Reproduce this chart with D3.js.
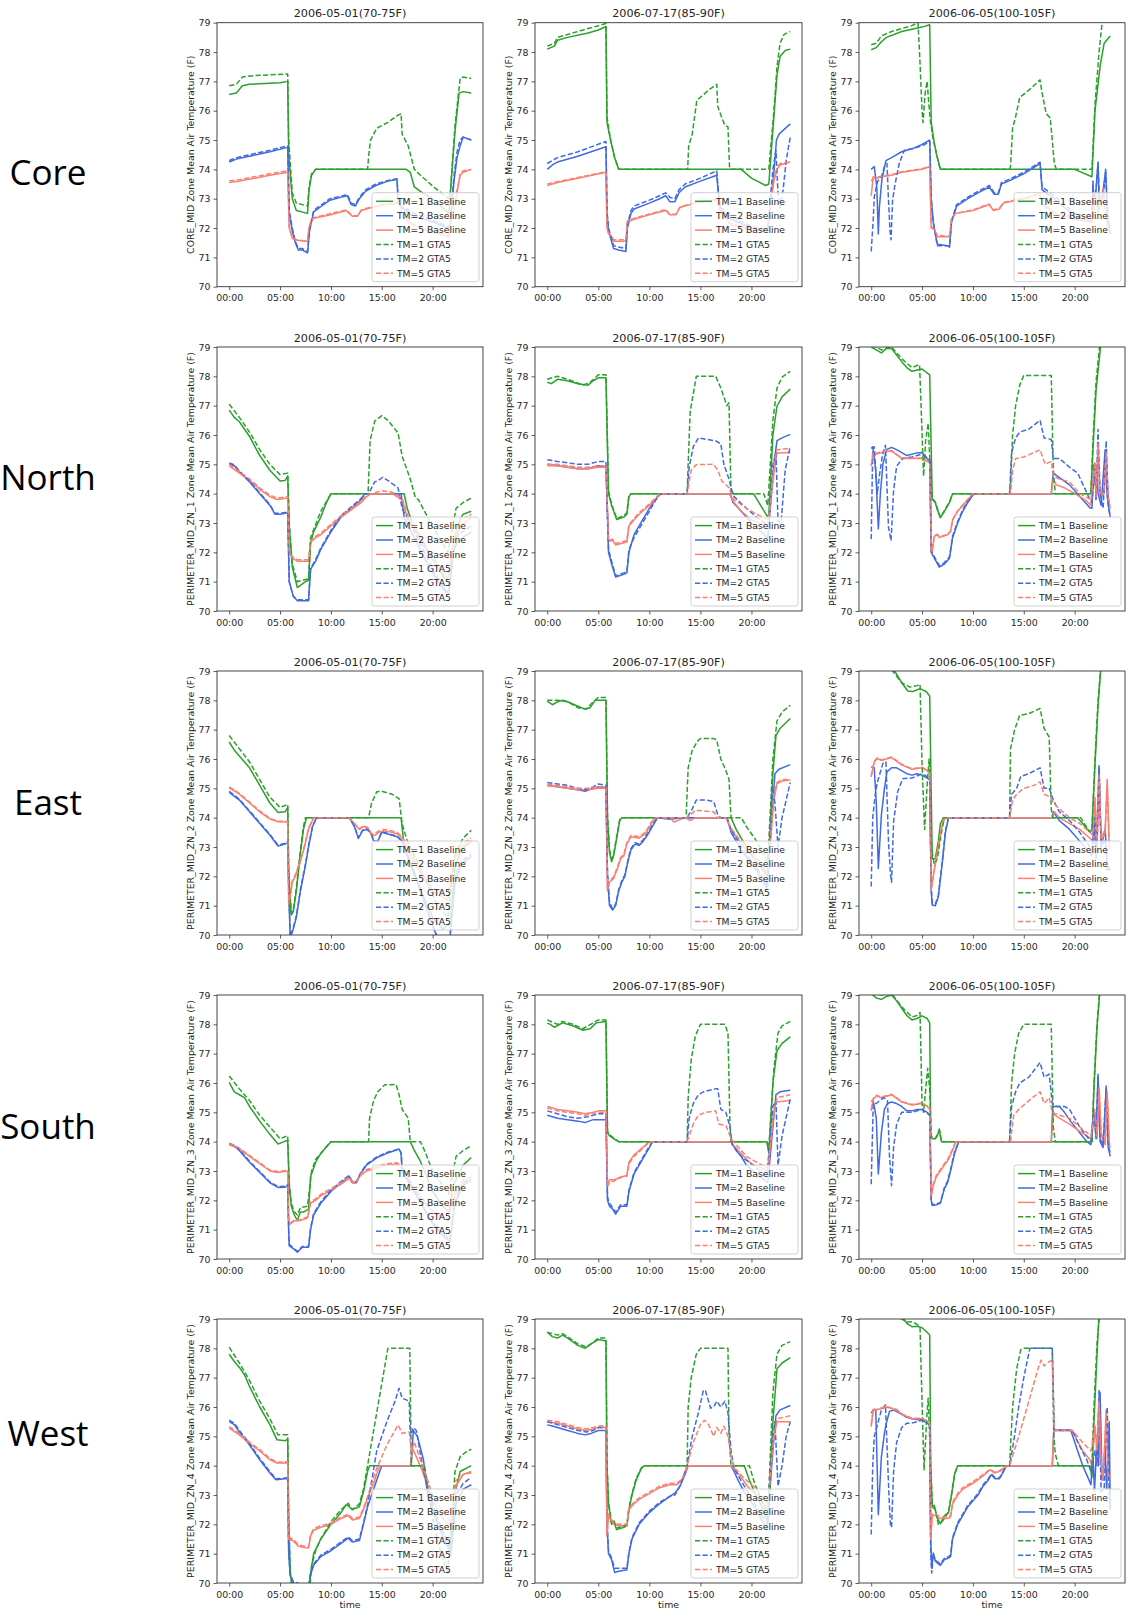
<!DOCTYPE html>
<html>
<head>
<meta charset="utf-8">
<script src="https://cdn.jsdelivr.net/npm/d3@7"></script>
<style>
  body { margin: 0; background: #fff; }
  svg { display: block; }
</style>
</head>
<body>
<svg id="chart" width="1129" height="1616"></svg>
<script>
// ---- Zone mean air temperature (F) by hour of day, [hour, value] ----

// Core, 2006-05-01
const core_may_tm1b = [[0,76.55],[0.7,76.6],[1.3,76.85],[2,76.9],[5,76.95],[5.75,77.0],[5.85,74.5],[6.2,73.0],[6.6,72.6],[7.7,72.5],[7.85,73.3],[8.1,73.8],[8.5,74.0],[17.4,74.0],[17.8,73.9],[18.2,73.4],[19,73.2],[20,73.0],[21.6,72.5],[21.8,73.5],[22.2,75.3],[22.6,76.6],[23,76.65],[23.8,76.6]];
const core_may_tm2b = [[0,74.25],[0.7,74.35],[2,74.45],[4,74.6],[5.75,74.75],[5.9,72.5],[6.2,71.9],[6.5,71.5],[6.8,71.25],[7.2,71.25],[7.7,71.15],[7.9,71.9],[8.3,72.55],[8.9,72.7],[9.9,72.95],[11.2,73.07],[11.6,73.1],[12.0,72.8],[12.4,72.75],[12.8,73.0],[13.4,73.25],[14.4,73.45],[15.6,73.6],[16.5,73.65],[16.6,72.95],[16.9,72.7],[18.2,72.4],[20.1,72.2],[21.5,72.0],[21.7,72.05],[22.1,73.6],[22.4,74.4],[22.7,74.8],[23,75.1],[23.8,75.0]];
const core_may_tm5b = [[0,73.55],[1,73.6],[2.5,73.7],[4,73.8],[5.75,73.9],[5.9,72.0],[6.2,71.65],[6.6,71.58],[7.7,71.55],[7.85,72.0],[8.1,72.25],[8.3,72.33],[10,72.45],[11.5,72.6],[12.1,72.4],[12.6,72.4],[13,72.6],[14,72.7],[15.5,72.8],[16.8,72.85],[17.0,72.4],[18,72.1],[20,71.85],[21.6,71.7],[21.8,72.2],[22.3,73.0],[22.7,73.8],[23,73.9],[23.8,74.0]];
const core_may_tm1g = [[0,76.85],[0.7,76.9],[1.3,77.15],[2.5,77.2],[5.75,77.25],[5.85,75.0],[6.2,73.2],[6.6,72.85],[7.7,72.75],[7.85,73.4],[8.1,73.85],[8.5,74.0],[13.6,74.0],[13.75,74.6],[13.9,75.0],[14.5,75.4],[15.6,75.6],[16.6,75.85],[16.9,75.9],[17.0,75.2],[17.6,74.8],[17.9,74.4],[18.2,74.0],[18.8,73.8],[20.1,73.4],[21.4,73.05],[21.7,73.0],[22.2,75.5],[22.7,77.1],[23,77.15],[23.8,77.1]];
const core_may_tm2g = [[0,74.3],[0.7,74.4],[2,74.5],[4,74.65],[5.75,74.8],[5.9,72.6],[6.2,72.0],[6.5,71.55],[6.8,71.3],[7.2,71.3],[7.7,71.2],[7.9,71.95],[8.3,72.6],[8.9,72.75],[9.9,73.0],[11.2,73.1],[11.6,73.15],[12.0,72.85],[12.4,72.8],[12.8,73.05],[13.4,73.3],[14.4,73.5],[15.6,73.62],[16.5,73.68],[16.6,73.0],[16.9,72.75],[18.2,72.5],[20.1,72.25],[21.5,72.05],[21.7,72.1],[22.1,73.8],[22.4,74.6],[22.7,75.0],[23,75.1],[23.8,75.0]];
const core_may_tm5g = [[0,73.6],[1,73.65],[2.5,73.75],[4,73.85],[5.75,73.95],[5.9,72.05],[6.2,71.7],[6.6,71.6],[7.7,71.55],[7.85,72.05],[8.1,72.3],[8.3,72.35],[10,72.5],[11.5,72.62],[12.1,72.42],[12.6,72.42],[13,72.62],[14,72.72],[15.5,72.82],[16.8,72.87],[17.0,72.45],[18,72.15],[20,71.9],[21.6,71.75],[21.8,72.25],[22.3,73.1],[22.7,73.85],[23,73.95],[23.8,74.0]];

// Core, 2006-07-17
const core_jul_tm1b = [[0,78.1],[0.7,78.2],[1,78.4],[2,78.5],[4,78.65],[5,78.75],[5.75,78.87],[5.85,75.6],[6.2,75.0],[6.6,74.4],[7.0,74.0],[19.0,74.0],[20,73.7],[21.4,73.45],[21.7,73.5],[22.2,75.8],[22.5,77.2],[22.8,77.85],[23.3,78.05],[23.8,78.1]];
const core_jul_tm2b = [[0,74.0],[0.5,74.15],[1,74.25],[3,74.45],[5.75,74.77],[5.85,72.5],[6.0,71.9],[6.5,71.3],[7,71.25],[7.7,71.2],[7.85,72.0],[8.2,72.5],[8.5,72.65],[10,72.85],[11,73.0],[11.6,73.1],[12,72.9],[12.5,72.9],[12.9,73.2],[13.5,73.4],[15,73.6],[16.6,73.8],[16.8,73.0],[17,72.6],[18,72.3],[20,72.0],[21.6,71.9],[21.8,72.6],[22.2,73.9],[22.45,75.0],[22.7,75.2],[23.8,75.55]];
const core_jul_tm5b = [[0,73.45],[1,73.55],[3,73.7],[5.75,73.9],[5.85,72.0],[6.0,71.8],[6.3,71.7],[6.5,71.55],[7.7,71.55],[7.85,72.2],[8.5,72.3],[10,72.45],[11.6,72.6],[12,72.45],[12.6,72.45],[13,72.7],[14.5,72.85],[16.6,72.95],[17,72.5],[18,72.1],[20,71.95],[21.6,71.9],[21.8,72.6],[22.2,73.6],[22.5,74.0],[22.8,74.15],[23.8,74.25]];
const core_jul_tm1g = [[0,78.2],[0.7,78.3],[1,78.5],[2,78.6],[4,78.8],[5.75,78.97],[5.85,75.8],[6.2,75.0],[6.6,74.4],[7.0,74.0],[13.75,74.0],[13.85,74.8],[14.2,75.2],[14.65,76.35],[15.8,76.7],[16.6,76.9],[16.7,76.15],[17.05,75.8],[17.4,75.5],[17.7,75.45],[17.85,74.1],[18.0,74.0],[21.7,74.0],[22.2,76.0],[22.5,77.5],[22.8,78.3],[23.2,78.6],[23.8,78.7]];
const core_jul_tm2g = [[0,74.2],[0.5,74.3],[1,74.4],[3,74.6],[5.75,74.95],[5.85,72.6],[6.0,72.0],[6.5,71.4],[7,71.35],[7.7,71.3],[7.85,72.1],[8.2,72.6],[8.5,72.75],[10,72.95],[11,73.1],[11.6,73.2],[12,73.05],[12.5,73.0],[12.9,73.3],[13.5,73.5],[15,73.7],[16.6,73.95],[16.8,73.1],[17,72.7],[18,72.4],[20,72.05],[21.6,71.95],[21.8,72.8],[22.1,74.0],[22.4,74.65],[22.6,73.2],[22.8,72.7],[23.1,73.3],[23.4,74.3],[23.8,75.1]];
const core_jul_tm5g = [[0,73.5],[1,73.58],[3,73.72],[5.75,73.92],[5.85,72.05],[6.0,71.85],[6.3,71.72],[6.5,71.6],[7.7,71.6],[7.85,72.25],[8.5,72.33],[10,72.48],[11.6,72.63],[12,72.47],[12.6,72.47],[13,72.72],[14.5,72.87],[16.6,72.97],[17,72.55],[18,72.15],[20,72.0],[21.6,71.95],[21.8,72.7],[22.2,73.7],[22.5,74.05],[22.8,74.2],[23.8,74.25]];

// Core, 2006-06-05
const core_jun_tm1b = [[0,78.08],[0.5,78.15],[1,78.35],[1.5,78.5],[3,78.7],[5,78.85],[5.75,78.93],[5.9,75.6],[6.2,74.9],[6.5,74.4],[6.8,74.0],[20,74.0],[21.7,73.75],[22.0,76.0],[22.5,77.5],[22.9,78.3],[23.5,78.55]];
const core_jun_tm2b = [[0,74.0],[0.3,74.1],[0.55,73.4],[0.7,71.8],[0.8,72.7],[1.05,73.65],[1.45,74.3],[2,74.4],[3,74.6],[4,74.7],[5,74.85],[5.75,75.0],[5.9,73.0],[6.1,72.2],[6.5,71.45],[7.5,71.4],[7.7,71.35],[7.9,72.2],[8.4,72.75],[9.5,73.0],[10.5,73.2],[11.6,73.4],[12.1,73.15],[12.5,73.15],[12.8,73.5],[13.5,73.6],[15,73.85],[16.6,74.2],[16.8,73.3],[18,73.0],[20,72.4],[21.7,72.2],[21.8,73.6],[21.9,72.8],[22.1,73.3],[22.3,74.25],[22.4,72.8],[22.7,73.0],[23.05,74.0],[23.2,72.5],[23.5,71.8]];
const core_jun_tm5b = [[0,73.1],[0.2,73.75],[0.5,73.7],[1,73.75],[2,73.8],[3,73.9],[5,74.0],[5.75,74.1],[5.9,72.0],[6.2,71.95],[6.5,71.7],[7.7,71.7],[7.9,72.3],[8.3,72.5],[10,72.6],[11.6,72.8],[12,72.6],[12.6,72.65],[13,72.85],[15,73.0],[16.6,73.15],[16.8,72.8],[18,72.5],[20,72.3],[21.7,72.2],[22.1,73.1],[22.3,72.5],[22.8,73.3],[23.2,72.1],[23.5,71.8]];
const core_jun_tm1g = [[0,78.25],[0.5,78.3],[1,78.55],[2,78.7],[4,78.9],[4.6,79.0],[4.75,78.0],[5.0,76.0],[5.1,75.6],[5.3,76.6],[5.5,77.0],[5.65,76.3],[5.8,75.7],[6.1,75.0],[6.5,74.4],[6.8,74.0],[13.6,74.0],[13.7,74.1],[13.9,75.4],[14.2,75.8],[14.6,76.45],[15.5,76.7],[16.6,77.05],[16.8,76.6],[17.2,75.9],[17.6,75.75],[17.8,75.0],[18.0,74.2],[18.2,74.0],[21.7,74.0],[22.0,76.2],[22.4,78.0],[22.7,79.0],[23.5,79.5]];
const core_jun_tm2g = [[0,71.2],[0.2,72.3],[0.3,73.05],[0.5,73.4],[0.65,73.6],[1.0,73.75],[1.3,74.1],[1.55,74.2],[1.7,72.95],[1.85,71.9],[1.95,71.6],[2.1,72.95],[2.35,73.5],[2.75,74.2],[3.25,74.65],[4,74.7],[5,74.8],[5.75,74.95],[5.9,73.0],[6.1,72.2],[6.5,71.4],[7.5,71.4],[7.7,71.38],[7.9,72.25],[8.4,72.8],[9.5,73.05],[10.5,73.25],[11.6,73.45],[12.1,73.2],[12.5,73.2],[12.8,73.55],[13.5,73.65],[15,73.9],[16.6,74.25],[16.8,73.4],[18,73.1],[20,72.5],[21.7,72.3],[21.8,73.4],[21.95,72.9],[22.15,73.5],[22.3,74.2],[22.45,72.9],[22.8,73.1],[23.05,73.9],[23.25,72.6],[23.5,71.9]];
const core_jun_tm5g = [[0,73.6],[0.2,73.7],[0.5,73.72],[1,73.77],[2,73.82],[3,73.92],[5,74.02],[5.75,74.1],[5.9,72.05],[6.2,71.95],[6.5,71.75],[7.7,71.72],[7.9,72.35],[8.3,72.5],[10,72.62],[11.6,72.82],[12,72.62],[12.6,72.67],[13,72.87],[15,73.02],[16.6,73.17],[16.8,72.85],[18,72.55],[20,72.35],[21.7,72.25],[22.1,73.2],[22.3,72.6],[22.8,73.35],[23.2,72.2],[23.5,71.9]];

// North (PERIMETER_MID_ZN_1), 2006-05-01
const north_may_tm1b = [[0,76.85],[0.5,76.6],[1,76.45],[2,75.95],[3,75.3],[4,74.8],[5,74.43],[5.5,74.45],[5.75,74.6],[5.9,72.9],[6.2,71.5],[6.7,70.8],[7.5,71.0],[7.8,71.05],[8.0,72.3],[8.3,72.7],[9,73.2],[9.5,73.65],[10,74.0],[17.2,74.0],[17.5,73.5],[18,73.0],[19,72.4],[20,71.8],[21,71.2],[21.7,70.9],[22.2,72.5],[22.5,73.0],[23,73.3],[23.8,73.4]];
const north_may_tm2b = [[0,75.0],[0.5,74.95],[1,74.75],[2,74.4],[3,74.0],[4,73.6],[4.5,73.3],[5,73.3],[5.75,73.35],[5.9,71.0],[6.3,70.5],[6.7,70.35],[7.8,70.35],[8.0,71.42],[8.5,71.7],[9,72.1],[10,72.7],[11,73.2],[12,73.5],[13,73.8],[13.3,74.0],[16.9,74.0],[17.2,73.2],[17.6,72.9],[18.5,72.3],[19.5,71.6],[20.5,71.0],[21.3,70.65],[21.6,70.6],[22,72.0],[22.5,72.4],[23.8,72.7]];
const north_may_tm5b = [[0,74.95],[1,74.7],[2,74.45],[3,74.15],[4,73.9],[4.7,73.8],[5.75,73.85],[5.9,72.0],[6.2,71.8],[6.7,71.7],[7.8,71.7],[8.0,72.35],[8.5,72.5],[9,72.6],[10,72.9],[11,73.2],[12,73.45],[13,73.7],[13.5,73.9],[14,74.0],[16,74.0],[16.5,73.9],[17,73.8],[17.5,73.2],[18.5,72.6],[19.5,72.0],[20.5,71.5],[21.5,71.1],[22.2,72.4],[22.8,72.9],[23.8,73.2]];
const north_may_tm1g = [[0,77.05],[1,76.6],[2,76.1],[3,75.5],[4,75.0],[5,74.65],[5.75,74.7],[5.9,73.0],[6.2,71.6],[6.7,71.0],[7.8,71.1],[8.0,72.5],[9,73.4],[10,74.0],[13.65,74.0],[13.85,75.8],[14.3,76.47],[15,76.66],[15.6,76.5],[16.6,76.07],[17,75.28],[17.8,74.5],[18.3,73.86],[18.6,73.8],[19.5,73.2],[20.5,72.6],[21.5,72.0],[22.3,73.5],[23,73.7],[23.8,73.85]];
const north_may_tm2g = [[0,75.05],[0.5,74.98],[1,74.78],[2,74.43],[3,74.03],[4,73.63],[4.5,73.33],[5,73.33],[5.75,73.38],[5.9,71.0],[6.3,70.5],[6.7,70.38],[7.8,70.38],[8.0,71.45],[8.5,71.75],[9,72.15],[10,72.75],[11,73.25],[12,73.55],[13,73.85],[13.3,74.0],[13.7,74.0],[14.3,74.4],[14.65,74.45],[15.1,74.56],[15.8,74.4],[16.6,74.2],[17.0,73.5],[17.6,73.1],[18.5,72.5],[19.5,71.8],[20.5,71.1],[21.3,70.7],[21.6,70.65],[22,72.2],[22.5,72.6],[23.8,72.9]];
const north_may_tm5g = [[0,75.0],[1,74.75],[2,74.5],[3,74.2],[4,73.95],[4.7,73.85],[5.75,73.9],[5.9,72.05],[6.2,71.85],[6.7,71.75],[7.8,71.75],[8.0,72.4],[8.5,72.55],[9,72.65],[10,72.95],[11,73.25],[12,73.5],[13,73.75],[13.5,73.95],[14,74.0],[14.5,74.05],[15,74.1],[16,74.05],[16.5,73.95],[17,73.85],[17.5,73.3],[18.5,72.7],[19.5,72.1],[20.5,71.6],[21.5,71.2],[22.2,72.6],[22.8,73.1],[23.8,73.3]];

// North, 2006-07-17
const north_jul_tm1b = [[0,77.8],[0.4,77.75],[1,77.9],[2,77.85],[3,77.75],[4,77.7],[4.5,77.85],[5,77.95],[5.75,77.95],[6.0,74.0],[6.3,73.6],[6.8,73.12],[7.5,73.2],[7.8,73.3],[8.0,73.9],[8.2,74.0],[20.2,74.0],[21.6,73.2],[21.7,73.3],[22.1,76.0],[22.5,76.98],[23,77.3],[23.8,77.57]];
const north_jul_tm2b = [[0,75.0],[1,74.95],[3,74.85],[4,74.85],[5,74.95],[5.75,74.9],[6.0,72.0],[6.3,71.6],[6.7,71.16],[7.5,71.25],[7.8,71.3],[8.0,72.0],[8.5,72.6],[9,72.9],[10,73.5],[10.8,73.9],[11.2,74.0],[17.9,74.0],[18.2,73.7],[19,73.4],[20,73.0],[21.6,72.5],[22.2,75.0],[22.5,75.81],[23,75.9],[23.8,76.02]];
const north_jul_tm5b = [[0,74.95],[1,74.95],[3,74.85],[4,74.85],[5,74.9],[5.75,74.9],[6.0,72.38],[6.4,72.4],[6.7,72.25],[7.8,72.35],[8.0,72.9],[8.5,73.1],[9,73.3],[10,73.6],[11,73.95],[11.2,74.0],[17.8,74.0],[18.3,73.7],[19,73.4],[20,73.1],[21.6,72.9],[22.2,74.7],[22.5,75.39],[23.8,75.4]];
const north_jul_tm1g = [[0,77.9],[1,78.0],[2,77.9],[3.5,77.7],[4.2,77.8],[5,78.05],[5.75,78.05],[6.0,74.1],[6.3,73.65],[6.8,73.15],[7.5,73.25],[7.8,73.35],[8.0,73.95],[8.2,74.0],[13.7,74.0],[13.8,75.0],[14.0,76.8],[14.6,78.0],[16.5,78.0],[17.0,77.6],[17.6,77.0],[17.8,77.1],[18.0,74.0],[21.2,74.0],[21.6,73.6],[22.1,76.5],[22.5,77.6],[23,77.97],[23.8,78.17]];
const north_jul_tm2g = [[0,75.16],[1,75.1],[3,75.0],[4,75.0],[5,75.1],[5.75,75.1],[6.0,72.1],[6.3,71.7],[6.7,71.2],[7.5,71.3],[7.8,71.35],[8.0,72.1],[8.5,72.5],[9,72.8],[10,73.4],[11,74.0],[13.7,74.0],[13.9,74.9],[14.3,75.6],[14.8,75.9],[16.5,75.8],[17,75.7],[17.3,75.0],[17.8,74.5],[18,74.2],[18.3,73.9],[19.5,73.5],[20.5,73.2],[21.7,72.9],[22.1,75.0],[22.4,75.4],[22.6,73.06],[22.9,73.0],[23.3,74.8],[23.8,75.62]];
const north_jul_tm5g = [[0,75.0],[1,75.0],[3,74.9],[4,74.9],[5,74.95],[5.75,74.95],[6.0,72.4],[6.4,72.45],[6.7,72.3],[7.8,72.4],[8.0,72.95],[8.5,73.15],[9,73.35],[10,73.65],[11,74.0],[13.7,74.0],[14.1,74.8],[14.6,74.99],[16.3,75.0],[16.7,74.8],[17.1,74.43],[17.8,74.2],[18,74.0],[18.3,73.8],[19.5,73.5],[20.5,73.3],[21.7,73.1],[22.2,75.0],[22.5,75.5],[23.8,75.55]];

// North, 2006-06-05
const north_jun_tm1b = [[0,79.0],[0.5,78.9],[1,78.8],[1.5,78.95],[2,78.95],[3,78.5],[3.5,78.3],[4,78.17],[5,78.25],[5.75,78.05],[6.0,73.8],[6.3,73.7],[6.5,73.45],[6.8,73.18],[7.2,73.4],[7.7,73.7],[8.0,74.0],[21.6,74.0],[21.8,75.5],[22.1,77.5],[22.6,79.2],[23.5,80]];
const north_jun_tm2b = [[0,75.54],[0.15,75.6],[0.45,74.8],[0.7,72.8],[0.9,74.0],[1.15,75.0],[1.5,75.5],[2,75.58],[2.5,75.5],[3.5,75.3],[4.5,75.39],[5,75.4],[5.5,75.2],[5.8,75.1],[5.9,72.0],[6.2,71.8],[6.7,71.5],[7.2,71.6],[7.7,71.8],[8.0,72.5],[8.5,73.0],[9,73.4],[9.5,73.7],[10,73.95],[10.2,74.0],[17.7,74.0],[17.9,74.7],[18.5,74.55],[19.5,74.3],[20.5,73.9],[21.5,73.52],[21.7,73.5],[21.9,75.0],[22.0,74.3],[22.2,74.8],[22.3,74.0],[22.6,73.6],[23.0,75.5],[23.2,73.9],[23.5,73.2]];
const north_jun_tm5b = [[0,74.94],[0.2,75.4],[0.5,75.35],[1,75.4],[1.5,75.45],[2,75.45],[3,75.2],[4,75.2],[5,75.2],[5.75,75.05],[5.9,72.0],[6.0,72.0],[6.2,72.55],[6.5,72.6],[6.7,72.5],[7.5,72.6],[7.8,72.7],[8.0,73.1],[8.5,73.4],[9,73.6],[10,74.0],[17.7,74.0],[17.9,74.48],[18.2,74.3],[19,74.2],[20,74.0],[21,73.8],[21.6,73.6],[22.0,75.0],[22.1,73.8],[22.3,75.6],[22.5,73.9],[22.9,74.0],[23.1,75.3],[23.3,73.8],[23.5,73.5]];
const north_jun_tm1g = [[0,79.05],[0.5,79.0],[1,78.9],[1.8,79.0],[2,79.0],[3,78.6],[4,78.3],[4.75,78.4],[4.85,77.5],[5.15,74.6],[5.35,75.8],[5.6,76.4],[5.85,74.5],[6.0,73.85],[6.3,73.72],[6.5,73.5],[6.8,73.2],[7.2,73.42],[7.7,73.72],[8.0,74.0],[13.6,74.0],[13.7,74.3],[13.9,76.0],[14.2,77.0],[14.6,77.7],[15.0,78.03],[17.7,78.03],[17.9,74.8],[18.1,74.0],[21.6,74.0],[21.8,75.8],[22.1,77.8],[22.5,79.2],[23.5,80]];
const north_jun_tm2g = [[0,72.45],[0.15,75.55],[0.3,75.6],[0.45,74.7],[0.6,74.0],[0.8,74.6],[1.1,75.3],[1.4,75.65],[1.7,72.84],[1.95,72.4],[2.2,74.1],[2.5,74.94],[3.1,75.2],[4,75.25],[5,75.35],[5.75,75.15],[5.9,72.05],[6.2,71.85],[6.7,71.55],[7.2,71.65],[7.7,71.85],[8.0,72.55],[8.5,73.05],[9,73.45],[9.5,73.75],[10,74.0],[13.6,74.0],[13.8,75.4],[14.2,75.9],[14.6,76.1],[15.5,76.2],[16.6,76.5],[17,75.9],[17.7,75.85],[17.9,75.2],[18.5,75.2],[19.5,74.9],[20.3,74.7],[21.5,73.8],[21.7,73.7],[22.0,75.0],[22.1,73.8],[22.3,76.19],[22.5,74.0],[22.8,73.5],[23.1,75.8],[23.3,73.6],[23.5,73.2]];
const north_jun_tm5g = [[0,74.98],[0.2,75.42],[0.5,75.38],[1,75.42],[1.5,75.47],[2,75.47],[3,75.22],[4,75.22],[5,75.22],[5.75,75.07],[5.9,72.05],[6.0,72.05],[6.2,72.58],[6.5,72.62],[6.7,72.52],[7.5,72.62],[7.8,72.72],[8.0,73.12],[8.5,73.42],[9,73.62],[10,74.0],[13.7,74.0],[13.9,74.8],[14.2,75.2],[15,75.25],[16,75.4],[16.6,75.5],[17.1,75.0],[17.7,75.1],[17.9,74.6],[18.5,74.5],[19.5,74.4],[20.5,74.0],[21.6,73.8],[22.0,75.1],[22.1,73.9],[22.3,75.7],[22.5,74.0],[22.9,74.1],[23.1,75.4],[23.3,73.9],[23.5,73.6]];

// East (PERIMETER_MID_ZN_2), 2006-05-01
const east_may_tm1b = [[0,76.58],[0.5,76.3],[1,76.1],[2,75.7],[3,75.1],[4,74.5],[4.8,74.18],[5.5,74.2],[5.75,74.35],[5.85,72.0],[6.1,70.68],[6.3,70.8],[6.6,71.5],[7.0,72.8],[7.3,73.6],[7.6,74.0],[16.9,74.0],[17.2,73.0],[18,72.2],[19,71.4],[20,70.6],[21,70.2],[21.7,70.4],[22.2,72.3],[22.8,72.9],[23.8,73.2]];
const east_may_tm2b = [[0,74.86],[1,74.6],[2,74.2],[3,73.8],[4,73.4],[4.8,73.03],[5.5,73.1],[5.75,73.15],[5.9,71.0],[6.0,69.9],[6.3,70.2],[6.6,70.6],[7.0,71.5],[7.5,72.38],[7.8,73.0],[8.2,73.7],[8.6,74.0],[11.8,74.0],[12.3,73.7],[12.7,73.29],[13.1,73.55],[13.5,73.6],[13.9,73.5],[14.2,73.2],[14.6,73.18],[15,73.5],[15.5,73.45],[16,73.4],[16.5,73.35],[17,73.2],[18,72.3],[19,71.3],[20,70.3],[20.5,69.9],[21.7,69.9],[22.2,71.8],[22.8,72.4],[23.8,72.67]];
const east_may_tm5b = [[0,75.02],[1,74.8],[2,74.5],[3,74.2],[4,73.95],[4.8,73.86],[5.75,73.85],[5.85,71.0],[6.0,71.3],[6.2,71.8],[6.5,72.0],[7.0,72.5],[7.4,73.0],[7.8,73.6],[8.3,74.0],[11.8,74.0],[12.4,73.75],[12.8,73.6],[13.2,73.7],[13.6,73.65],[14,73.4],[14.3,73.4],[14.7,73.5],[15.2,73.55],[16,73.5],[16.5,73.45],[17,73.3],[18,72.6],[19,72.0],[20,71.5],[21.5,71.2],[22.2,72.6],[22.8,73.0],[23.8,73.21]];
const east_may_tm1g = [[0,76.8],[1,76.35],[2,75.9],[3,75.3],[4,74.7],[5,74.35],[5.75,74.45],[5.85,72.2],[6.1,70.75],[6.3,70.85],[6.6,71.6],[7.0,72.9],[7.3,73.7],[7.5,74.0],[13.7,74.0],[14.0,74.5],[14.5,74.88],[15,74.9],[16,74.8],[16.7,74.65],[17.0,73.8],[17.5,73.2],[18.5,72.5],[19.5,71.7],[20.5,71.0],[21.5,70.6],[22.2,72.8],[23,73.3],[23.8,73.57]];
const east_may_tm2g = [[0,74.9],[1,74.63],[2,74.23],[3,73.83],[4,73.43],[4.8,73.06],[5.5,73.13],[5.75,73.18],[5.9,71.05],[6.0,69.95],[6.3,70.25],[6.6,70.65],[7.0,71.55],[7.5,72.42],[7.8,73.05],[8.2,73.73],[8.6,74.0],[11.8,74.0],[12.3,73.72],[12.7,73.32],[13.1,73.57],[13.5,73.62],[13.9,73.52],[14.2,73.22],[14.6,73.2],[15,73.52],[15.5,73.47],[16,73.42],[16.5,73.37],[17,73.2],[18,72.35],[19,71.35],[20,70.35],[20.5,69.9],[21.7,69.9],[22.2,72.0],[22.8,72.5],[23.8,72.75]];
const east_may_tm5g = [[0,75.05],[1,74.83],[2,74.53],[3,74.23],[4,73.98],[4.8,73.88],[5.75,73.87],[5.85,71.05],[6.0,71.35],[6.2,71.85],[6.5,72.05],[7.0,72.55],[7.4,73.05],[7.8,73.65],[8.3,74.0],[11.8,74.0],[12.4,73.77],[12.8,73.62],[13.2,73.72],[13.6,73.67],[14,73.45],[14.3,73.45],[14.7,73.55],[15.2,73.6],[16,73.55],[16.5,73.5],[17,73.35],[18,72.7],[19,72.1],[20,71.6],[21.5,71.3],[22.2,72.7],[22.8,73.1],[23.8,73.3]];

// East, 2006-07-17
const east_jul_tm1b = [[0,77.97],[0.5,77.85],[1,77.95],[1.5,78.0],[2,77.95],[3,77.8],[3.7,77.7],[4.2,77.75],[4.7,78.0],[5.75,78.0],[5.9,74.0],[6.1,72.8],[6.3,72.5],[6.5,72.7],[6.8,73.3],[7.1,73.9],[7.3,74.0],[18.0,74.0],[18.5,73.6],[19,73.3],[19.5,73.0],[20.5,72.5],[21.6,72.0],[22.1,75.5],[22.4,76.8],[22.8,77.04],[23.8,77.38]];
const east_jul_tm2b = [[0,75.1],[1,75.05],[2,75.0],[3,74.95],[3.7,74.9],[4.5,75.0],[5,75.05],[5.75,75.0],[5.9,72.0],[6.1,71.0],[6.4,70.85],[6.7,71.0],[7.0,71.5],[7.3,71.8],[7.6,72.0],[7.9,72.5],[8.2,72.9],[8.6,73.1],[9.0,73.05],[9.4,73.2],[9.8,73.4],[10.3,73.7],[10.8,74.0],[12,73.95],[13.2,74.0],[17.6,74.0],[18,73.5],[18.5,73.2],[19,72.9],[20.5,72.2],[21.5,71.6],[22.1,74.5],[22.3,75.5],[22.7,75.65],[23.8,75.81]];
const east_jul_tm5b = [[0,75.1],[1,75.05],[2,75.0],[3,74.95],[4,74.95],[5,75.0],[5.75,75.0],[5.9,71.5],[6.1,71.8],[6.5,71.93],[6.8,72.2],[7.2,72.6],[7.5,72.7],[7.8,73.1],[8.2,73.35],[9.0,73.3],[9.6,73.45],[10.2,73.8],[10.6,74.0],[12,74.0],[12.4,73.85],[13.5,74.0],[14,73.9],[14.5,74.0],[17.5,74.0],[18,73.6],[18.5,73.35],[19.5,72.9],[20.5,72.5],[21.6,72.1],[22.2,74.6],[22.5,75.15],[23,75.25],[23.8,75.28]];
const east_jul_tm1g = [[0,78.0],[1,78.0],[2,77.95],[3,77.75],[3.8,77.7],[4.5,77.95],[5,78.1],[5.75,78.1],[5.9,74.1],[6.1,72.9],[6.3,72.6],[6.5,72.75],[6.8,73.35],[7.1,73.95],[7.3,74.0],[13.6,74.0],[13.8,75.7],[14.2,76.3],[14.7,76.6],[15,76.7],[16.3,76.7],[16.6,76.65],[17.0,76.0],[17.5,75.6],[17.8,75.3],[18.0,74.0],[19.0,74.0],[19.5,73.7],[20.5,73.2],[21.6,72.5],[22.1,76.0],[22.5,77.3],[23,77.6],[23.8,77.83]];
const east_jul_tm2g = [[0,75.2],[1,75.15],[2,75.1],[3,75.0],[3.7,74.95],[4.5,75.05],[5,75.15],[5.75,75.1],[5.9,72.1],[6.1,71.1],[6.4,70.9],[6.7,71.05],[7.0,71.55],[7.3,71.85],[7.6,72.05],[7.9,72.55],[8.2,72.95],[8.6,73.15],[9.0,73.1],[9.4,73.25],[9.8,73.45],[10.3,73.75],[10.8,74.0],[13.7,74.0],[14.2,74.3],[14.6,74.6],[15.6,74.6],[16.3,74.55],[16.7,74.1],[17,74.0],[17.6,74.0],[18,73.6],[18.5,73.3],[19,73.0],[20.5,72.3],[21.6,71.7],[22.1,75.0],[22.3,74.5],[22.6,73.0],[23.0,74.0],[23.4,74.6],[23.8,75.2]];
const east_jul_tm5g = [[0,75.15],[1,75.1],[2,75.05],[3,75.0],[4,75.0],[5,75.05],[5.75,75.05],[5.9,71.55],[6.1,71.85],[6.5,71.98],[6.8,72.25],[7.2,72.65],[7.5,72.75],[7.8,73.15],[8.2,73.4],[9.0,73.35],[9.6,73.5],[10.2,73.85],[10.6,74.0],[13.7,74.0],[14.5,74.25],[16.3,74.2],[16.7,74.0],[17.5,74.0],[18,73.65],[18.5,73.4],[19.5,73.0],[20.5,72.6],[21.6,72.2],[22.2,74.8],[22.5,75.2],[23,75.3],[23.8,75.3]];

// East, 2006-06-05
const east_jun_tm1b = [[0,79.7],[1,79.4],[2.3,79.0],[3,78.6],[3.6,78.32],[4.1,78.3],[4.8,78.4],[5.4,78.3],[5.75,78.15],[6.0,72.61],[6.3,72.6],[6.6,73.2],[6.8,73.8],[7.1,74.0],[20.3,74.0],[21.5,73.5],[21.7,73.6],[22.0,75.8],[22.3,77.8],[22.6,79.2],[23.5,80]];
const east_jun_tm2b = [[0,75.73],[0.3,75.7],[0.5,74.5],[0.7,72.27],[1.0,74.09],[1.3,74.99],[1.55,75.56],[2,75.7],[2.5,75.7],[3.5,75.5],[4,75.45],[4.5,75.5],[5,75.45],[5.5,75.35],[5.75,75.3],[5.9,71.5],[6.0,71.02],[6.3,71.0],[6.6,71.3],[7.0,72.5],[7.3,73.5],[7.6,74.0],[17.8,74.0],[17.9,74.2],[18.5,73.9],[19.5,73.6],[20.5,73.2],[21.5,72.8],[21.7,72.7],[21.9,74.0],[22.1,72.6],[22.4,75.77],[22.6,73.0],[23.0,73.6],[23.2,72.4],[23.5,72.2]];
const east_jun_tm5b = [[0,75.39],[0.3,75.9],[0.6,76.02],[1,75.95],[1.5,76.0],[2,76.05],[3,75.8],[4,75.65],[5,75.7],[5.5,75.6],[5.75,75.5],[5.9,71.53],[6.1,72.0],[6.4,72.6],[6.7,73.2],[7.0,73.8],[7.3,74.0],[17.8,74.0],[18.0,74.2],[18.5,74.0],[19.5,73.8],[20.5,73.6],[21.5,73.3],[21.8,73.2],[22.0,74.7],[22.2,73.0],[22.4,75.6],[22.6,73.2],[23.0,73.5],[23.2,75.3],[23.4,73.0],[23.5,72.9]];
const east_jun_tm1g = [[0,79.8],[1,79.5],[2.1,79.0],[3,78.6],[3.8,78.45],[4.5,78.5],[4.8,78.55],[5.0,75.8],[5.25,73.6],[5.55,75.4],[5.7,76.0],[5.9,73.0],[6.2,72.4],[6.5,72.6],[6.9,73.5],[7.2,74.0],[13.6,74.0],[13.7,76.35],[14.1,77.0],[14.6,77.49],[15.5,77.55],[16.6,77.72],[17.0,77.04],[17.5,76.75],[17.7,74.3],[17.85,74.0],[20.6,74.0],[21.5,73.5],[21.7,73.6],[22.0,76.0],[22.3,78.0],[22.6,79.3],[23.5,80]];
const east_jun_tm2g = [[0,71.65],[0.15,74.0],[0.4,74.8],[0.6,75.2],[1.15,75.85],[1.45,75.9],[1.7,73.18],[1.9,72.04],[2.0,71.8],[2.2,73.86],[2.6,74.88],[3.1,75.33],[4,75.35],[5,75.5],[5.5,75.4],[5.75,75.35],[5.9,71.6],[6.0,71.1],[6.3,71.05],[6.6,71.35],[7.0,72.55],[7.3,73.55],[7.6,74.0],[13.6,74.0],[13.8,74.8],[14.3,75.0],[14.7,75.4],[15.5,75.5],[16.6,75.7],[17,75.0],[17.5,75.0],[17.9,74.6],[18.5,74.2],[19.5,73.9],[20.5,73.5],[21.5,73.0],[21.7,72.9],[22.0,74.0],[22.2,73.0],[22.4,75.7],[22.6,73.0],[23.0,73.2],[23.2,72.2],[23.5,72.3]];
const east_jun_tm5g = [[0,75.42],[0.3,75.92],[0.6,76.04],[1,75.97],[1.5,76.02],[2,76.07],[3,75.82],[4,75.67],[5,75.72],[5.5,75.62],[5.75,75.52],[5.9,71.55],[6.1,72.05],[6.4,72.65],[6.7,73.25],[7.0,73.85],[7.3,74.0],[13.6,74.0],[13.9,74.6],[14.3,74.8],[15,75.0],[16,75.1],[16.6,75.22],[17,74.8],[17.6,74.7],[17.9,74.5],[18.5,74.3],[19.5,74.0],[20.5,73.8],[21.5,73.5],[21.8,73.4],[22.0,74.5],[22.2,73.1],[22.4,75.4],[22.6,73.3],[23.0,73.6],[23.2,75.1],[23.4,73.1],[23.5,73.0]];

// South (PERIMETER_MID_ZN_3), 2006-05-01
const south_may_tm1b = [[0,76.02],[0.5,75.7],[1,75.6],[1.5,75.5],[2,75.2],[3,74.7],[4,74.25],[4.8,73.92],[5.4,74.0],[5.75,74.05],[5.9,72.5],[6.1,71.8],[6.4,71.5],[6.7,71.31],[7.0,71.6],[7.3,71.6],[7.8,71.7],[8.0,72.8],[8.5,73.3],[9,73.6],[9.5,73.8],[10,74.0],[17.8,74.0],[18.2,73.7],[18.7,73.4],[19.2,73.0],[20,72.3],[21,71.8],[21.6,71.6],[22,72.5],[23,73.2],[23.8,73.46]];
const south_may_tm2b = [[0,73.9],[0.5,73.85],[1,73.7],[2,73.3],[3,72.95],[4,72.6],[4.8,72.44],[5.5,72.45],[5.75,72.5],[5.85,70.9],[5.9,70.45],[6.3,70.35],[6.7,70.23],[7.2,70.4],[7.8,70.4],[8.0,71.0],[8.3,71.5],[9,71.9],[10,72.3],[11,72.6],[11.8,72.82],[12.1,72.6],[12.5,72.6],[12.9,72.9],[13.5,73.2],[14.5,73.45],[15.5,73.6],[16.7,73.75],[16.9,73.6],[17.0,73.0],[18,72.4],[19,71.8],[20,71.2],[21,70.8],[21.7,70.6],[22.2,71.9],[23,72.5],[23.8,72.7]];
const south_may_tm5b = [[0,73.9],[1,73.75],[2,73.5],[3,73.25],[4,73.0],[4.8,72.95],[5.75,73.0],[5.85,71.3],[6.0,71.19],[6.4,71.3],[6.9,71.3],[7.7,71.4],[8.0,71.9],[8.5,72.0],[9,72.15],[10,72.35],[11,72.55],[11.8,72.75],[12.1,72.6],[12.5,72.6],[12.9,72.85],[13.5,73.0],[14.5,73.1],[15.5,73.2],[16.5,73.25],[17,73.1],[18,72.5],[19,72.0],[20,71.6],[21.5,71.3],[22.2,72.2],[23,72.6],[23.8,72.72]];
const south_may_tm1g = [[0,76.24],[1,75.8],[2,75.4],[3,74.9],[4,74.5],[5,74.1],[5.75,74.2],[5.9,72.6],[6.1,71.9],[6.4,71.6],[6.7,71.5],[7.0,71.75],[7.7,71.8],[8.1,73.0],[8.5,73.4],[10,74.0],[13.7,74.0],[13.8,74.8],[14.2,75.4],[14.6,75.7],[15.3,75.94],[16.4,75.95],[16.7,75.6],[17.0,75.1],[17.6,74.8],[17.8,74.0],[18.8,74.0],[19.2,73.7],[20,73.0],[21,72.5],[21.6,72.2],[22.3,73.5],[23,73.7],[23.8,73.86]];
const south_may_tm2g = [[0,73.95],[0.5,73.88],[1,73.73],[2,73.33],[3,72.98],[4,72.63],[4.8,72.47],[5.5,72.48],[5.75,72.53],[5.85,70.95],[5.9,70.5],[6.3,70.38],[6.7,70.26],[7.2,70.43],[7.8,70.43],[8.0,71.05],[8.3,71.55],[9,71.95],[10,72.35],[11,72.65],[11.8,72.85],[12.1,72.63],[12.5,72.63],[12.9,72.93],[13.5,73.23],[14.5,73.48],[15.5,73.63],[16.7,73.75],[16.9,73.62],[17.0,73.05],[18,72.45],[19,71.85],[20,71.25],[21,70.85],[21.7,70.65],[22.2,72.0],[23,72.6],[23.8,72.8]];
const south_may_tm5g = [[0,73.95],[1,73.78],[2,73.53],[3,73.28],[4,73.03],[4.8,72.98],[5.75,73.03],[5.85,71.35],[6.0,71.22],[6.4,71.33],[6.9,71.33],[7.7,71.43],[8.0,71.95],[8.5,72.05],[9,72.2],[10,72.4],[11,72.6],[11.8,72.8],[12.1,72.65],[12.5,72.65],[12.9,72.9],[13.5,73.05],[14.5,73.15],[15.5,73.25],[16.5,73.28],[17,73.15],[18,72.55],[19,72.05],[20,71.65],[21.5,71.35],[22.2,72.3],[23,72.7],[23.8,72.8]];

// South, 2006-07-17
const south_jul_tm1b = [[0,78.04],[0.3,78.0],[0.7,77.9],[1.5,78.05],[2.5,77.95],[3.5,77.8],[4.2,77.85],[4.8,78.05],[5.75,78.1],[5.9,74.3],[6.1,74.2],[6.5,74.1],[7,74.0],[21.5,74.0],[21.7,73.6],[22.1,76.0],[22.5,77.1],[23,77.35],[23.8,77.57]];
const south_jul_tm2b = [[0,74.9],[1,74.8],[2,74.75],[3,74.7],[3.7,74.65],[4.5,74.75],[5.5,74.75],[5.75,74.75],[5.9,72.0],[6.1,71.8],[6.4,71.7],[6.7,71.53],[7.2,71.8],[7.8,71.8],[8.0,72.3],[8.5,72.9],[9,73.2],[9.5,73.5],[10,73.8],[10.3,74.0],[18.0,74.0],[18.5,73.7],[19,73.5],[19.5,73.2],[20.5,72.9],[21.6,72.6],[22.1,74.5],[22.4,75.6],[22.8,75.7],[23.8,75.75]];
const south_jul_tm5b = [[0,75.2],[1,75.1],[2,75.05],[3,75.0],[3.7,74.95],[4.5,75.0],[5,75.05],[5.75,75.05],[5.9,72.5],[6.1,72.7],[6.5,72.7],[6.7,72.72],[7.2,72.8],[7.8,72.85],[8.0,73.3],[8.5,73.55],[9,73.7],[9.5,73.85],[10,74.0],[18.0,74.0],[18.3,73.85],[19,73.6],[19.5,73.4],[20,73.25],[21.6,73.0],[22.1,74.8],[22.4,75.35],[23.8,75.4]];
const south_jul_tm1g = [[0,78.15],[1,78.0],[1.5,78.1],[2.5,78.0],[3.5,77.85],[4.5,78.05],[5,78.15],[5.75,78.15],[5.9,74.35],[6.1,74.25],[6.5,74.12],[7,74.0],[13.7,74.0],[13.8,75.5],[14.1,76.8],[14.5,77.6],[15.0,78.0],[17.4,78.0],[17.7,77.7],[17.9,74.5],[18.0,74.0],[21.5,74.0],[21.7,73.8],[22.2,76.5],[22.6,77.7],[23,77.95],[23.8,78.1]];
const south_jul_tm2g = [[0,75.05],[1,74.95],[2,74.85],[3,74.8],[4,74.85],[5,74.95],[5.75,74.95],[5.9,72.1],[6.1,71.9],[6.4,71.75],[6.7,71.6],[7.2,71.85],[7.8,71.85],[8.0,72.35],[8.5,72.95],[9,73.25],[9.5,73.55],[10,73.85],[10.3,74.0],[13.7,74.0],[13.9,74.8],[14.3,75.3],[14.8,75.6],[15.3,75.7],[16.5,75.8],[16.7,75.8],[17.0,75.1],[17.5,75.0],[17.9,74.5],[18.1,73.9],[19,73.5],[20.5,73.1],[21.5,72.8],[22.1,75.2],[22.4,75.4],[22.6,73.2],[23.0,74.2],[23.8,75.45]];
const south_jul_tm5g = [[0,75.15],[1,75.05],[2,75.0],[3,74.95],[3.7,74.9],[4.5,74.95],[5,75.0],[5.75,75.0],[5.9,72.45],[6.1,72.65],[6.5,72.65],[6.7,72.68],[7.2,72.78],[7.8,72.82],[8.0,73.25],[8.5,73.5],[9,73.65],[9.5,73.82],[10,74.0],[13.7,74.0],[14.3,74.6],[14.8,74.9],[15.5,75.0],[16.5,75.05],[16.8,74.6],[17.5,74.55],[18.0,74.1],[18.5,73.9],[19.5,73.5],[20.5,73.3],[21.6,73.1],[22.2,75.0],[22.5,75.5],[23.8,75.6]];

// South, 2006-06-05
const south_jun_tm1b = [[0,79.05],[0.5,78.9],[1,78.85],[1.5,78.95],[2,79.0],[2.5,78.8],[3,78.55],[3.5,78.3],[4,78.15],[4.5,78.2],[5,78.29],[5.5,78.2],[5.75,78.05],[5.85,74.2],[6.0,74.1],[6.3,74.1],[6.5,74.2],[6.7,74.43],[6.9,74.0],[21.7,74.0],[21.9,75.8],[22.2,77.9],[22.5,79.2],[23.5,80]];
const south_jun_tm2b = [[0,75.39],[0.2,75.4],[0.5,74.8],[0.7,72.9],[1.0,74.3],[1.3,75.1],[1.6,75.3],[2,75.35],[2.5,75.3],[3,75.2],[3.5,75.05],[4,75.05],[4.5,75.1],[5,75.1],[5.5,75.0],[5.75,74.9],[5.9,72.0],[6.0,71.82],[6.4,71.85],[6.8,71.9],[7.2,72.4],[7.5,72.6],[7.8,73.0],[8.2,73.6],[8.6,74.0],[17.7,74.0],[17.85,75.2],[18.5,75.2],[19,75.0],[19.6,74.7],[20.5,74.3],[21.2,74.0],[21.6,73.9],[21.9,75.0],[22.1,74.2],[22.3,76.3],[22.5,74.0],[22.8,73.8],[23.1,75.9],[23.3,73.8],[23.5,73.5]];
const south_jun_tm5b = [[0,75.05],[0.2,75.45],[0.5,75.56],[1,75.5],[1.5,75.55],[2,75.6],[3,75.35],[4,75.25],[5,75.3],[5.5,75.2],[5.75,75.1],[5.9,72.1],[6.1,72.5],[6.4,72.8],[6.8,73.0],[7.2,73.2],[7.6,73.4],[8.0,73.7],[8.3,74.0],[17.7,74.0],[17.9,74.94],[18.5,74.8],[19.5,74.6],[20.5,74.35],[21.6,74.1],[22.0,75.0],[22.2,74.1],[22.4,75.8],[22.6,74.2],[23.0,73.9],[23.2,75.6],[23.4,73.9],[23.5,73.8]];
const south_jun_tm1g = [[0,79.1],[1,79.0],[2,79.05],[3,78.6],[4,78.25],[4.5,78.3],[4.8,78.4],[5.0,75.3],[5.15,75.0],[5.55,76.5],[5.75,75.8],[5.9,74.2],[6.0,74.15],[6.3,74.12],[6.5,74.22],[6.7,74.4],[6.9,74.0],[13.6,74.0],[13.8,76.0],[14.1,77.0],[14.5,77.7],[15.0,78.0],[17.7,78.0],[17.9,74.5],[18.1,74.0],[21.7,74.0],[21.9,76.0],[22.2,78.0],[22.5,79.3],[23.5,80]];
const south_jun_tm2g = [[0,72.55],[0.2,75.3],[0.5,75.3],[1.2,75.5],[1.6,75.4],[1.8,73.5],[2.0,72.5],[2.2,73.8],[2.5,74.6],[3,75.0],[4,75.0],[5,75.1],[5.75,74.9],[5.9,72.05],[6.0,71.85],[6.4,71.88],[6.8,71.92],[7.2,72.45],[7.5,72.65],[7.8,73.05],[8.2,73.65],[8.6,74.0],[13.6,74.0],[13.8,75.2],[14.2,75.7],[14.6,76.0],[15.5,76.2],[16.6,76.7],[17,76.2],[17.5,76.3],[17.8,75.3],[18.2,75.2],[19,75.2],[19.5,75.1],[20.5,74.5],[21.6,74.0],[21.9,75.1],[22.1,74.1],[22.3,76.2],[22.5,74.1],[22.8,73.9],[23.1,75.8],[23.3,73.9],[23.5,73.6]];
const south_jun_tm5g = [[0,75.08],[0.2,75.47],[0.5,75.58],[1,75.52],[1.5,75.57],[2,75.62],[3,75.37],[4,75.27],[5,75.32],[5.5,75.22],[5.75,75.12],[5.9,72.15],[6.1,72.55],[6.4,72.85],[6.8,73.05],[7.2,73.25],[7.6,73.45],[8.0,73.75],[8.3,74.0],[13.7,74.0],[14.0,74.9],[14.5,75.1],[15.5,75.4],[16.6,75.7],[17.0,75.3],[17.5,75.5],[17.8,75.0],[18.5,74.9],[19.5,74.8],[20.5,74.5],[21.6,74.2],[22.0,75.1],[22.2,74.2],[22.4,75.9],[22.6,74.3],[23.0,74.0],[23.2,75.7],[23.4,74.0],[23.5,73.9]];

// West (PERIMETER_MID_ZN_4), 2006-05-01
const west_may_tm1b = [[0,77.8],[0.5,77.55],[1,77.35],[1.5,77.1],[2,76.7],[3,76.0],[4,75.4],[4.7,74.88],[5.5,74.85],[5.75,74.9],[5.85,72.0],[6.0,70.3],[6.3,69.7],[7.8,69.7],[8.0,70.3],[8.3,71.0],[9,71.5],[10,72.0],[11,72.4],[11.5,72.67],[11.8,72.6],[12.1,72.5],[12.8,72.6],[13.2,73.1],[13.6,73.8],[13.8,74.0],[19.0,74.0],[19.4,73.5],[20,72.5],[21,71.6],[21.7,71.2],[22.3,73.2],[22.7,73.8],[23.8,74.0]];
const west_may_tm2b = [[0,75.5],[0.5,75.4],[1,75.15],[2,74.7],[3,74.2],[4,73.75],[4.6,73.52],[5.5,73.55],[5.75,73.55],[5.85,71.0],[6.0,70.25],[6.3,70.0],[7.8,69.8],[8.0,70.3],[8.3,70.6],[9,70.9],[10,71.1],[11,71.35],[11.7,71.53],[12.1,71.4],[12.8,71.45],[13.2,72.0],[13.6,72.6],[14,73.0],[14.5,73.5],[15,74.0],[17.9,74.0],[18.1,75.2],[18.5,75.0],[19.1,74.2],[19.5,73.0],[20.5,72.0],[21.5,71.2],[21.8,71.0],[22.3,72.7],[23,73.2],[23.8,73.35]];
const west_may_tm5b = [[0,75.28],[1,75.05],[2,74.75],[3,74.5],[4,74.2],[4.7,74.09],[5.75,74.1],[5.85,71.4],[6.0,71.5],[6.4,71.4],[6.8,71.25],[7.5,71.2],[7.8,71.19],[8.0,71.6],[8.3,71.8],[9,71.9],[10,72.0],[11,72.2],[11.7,72.3],[12.1,72.15],[12.8,72.2],[13.2,72.5],[13.6,72.9],[14.2,73.4],[14.8,74.0],[17.8,74.0],[18.0,74.6],[18.4,74.3],[19,73.8],[20,72.8],[21,72.2],[21.8,71.9],[22.3,73.3],[23,73.7],[23.8,73.8]];
const west_may_tm1g = [[0,78.04],[1,77.5],[2,76.9],[3,76.2],[4,75.6],[4.8,75.05],[5.75,75.05],[5.85,72.2],[6.0,70.4],[6.2,69.7],[7.9,69.7],[8.1,70.6],[8.5,71.1],[9,71.5],[10,72.1],[11,72.5],[11.7,72.72],[12.1,72.5],[12.8,72.7],[13.2,73.2],[13.6,74.0],[15.6,78.0],[17.75,78.0],[17.9,74.0],[19.2,74.0],[19.8,72.6],[20.5,71.4],[21.5,70.3],[22.2,73.8],[22.7,74.3],[23.2,74.45],[23.8,74.56]];
const west_may_tm2g = [[0,75.55],[0.5,75.45],[1,75.2],[2,74.75],[3,74.25],[4,73.8],[4.6,73.55],[5.5,73.58],[5.75,73.6],[5.85,71.05],[6.0,70.3],[6.3,70.05],[7.8,69.85],[8.0,70.35],[8.3,70.65],[9,70.95],[10,71.15],[11,71.4],[11.7,71.57],[12.1,71.45],[12.8,71.5],[13.2,72.05],[13.6,72.65],[14.5,74.5],[15.5,75.5],[16.3,76.2],[16.7,76.64],[17.0,76.3],[17.7,76.2],[17.8,75.0],[18.1,75.3],[18.4,75.2],[19.0,74.0],[19.5,73.2],[20.5,72.2],[21.5,71.4],[21.8,71.2],[22.3,73.0],[23,73.4],[23.8,73.6]];
const west_may_tm5g = [[0,75.33],[1,75.1],[2,74.8],[3,74.55],[4,74.25],[4.7,74.12],[5.75,74.13],[5.85,71.45],[6.0,71.55],[6.4,71.45],[6.8,71.3],[7.5,71.25],[7.8,71.22],[8.0,71.65],[8.3,71.85],[9,71.95],[10,72.05],[11,72.25],[11.7,72.35],[12.1,72.2],[12.8,72.25],[13.2,72.55],[13.6,72.95],[14.5,73.9],[15.5,74.7],[16.6,75.39],[17.0,75.1],[17.7,75.15],[17.9,74.5],[18.2,74.8],[19,74.0],[20,73.0],[21,72.4],[21.8,72.1],[22.3,73.5],[23,73.7],[23.8,73.75]];

// West, 2006-07-17
const west_jul_tm1b = [[0,78.55],[0.5,78.4],[1,78.35],[1.5,78.45],[2,78.35],[3,78.1],[3.7,78.0],[4.3,78.15],[5,78.3],[5.75,78.25],[5.85,74.0],[6.0,72.7],[6.3,72.0],[6.5,72.1],[6.8,71.82],[7.5,71.9],[7.8,71.95],[8.0,72.5],[8.3,73.0],[8.7,73.5],[9.2,73.9],[9.5,74.0],[19.3,74.0],[19.8,73.5],[20.3,73.1],[21,72.6],[21.6,72.1],[22.1,75.5],[22.5,77.3],[23,77.5],[23.8,77.68]];
const west_jul_tm2b = [[0,75.39],[0.5,75.35],[1,75.3],[2,75.2],[3,75.1],[3.7,75.05],[4.3,75.1],[5,75.2],[5.75,75.2],[5.85,72.0],[6.0,71.0],[6.3,70.8],[6.6,70.36],[7.0,70.4],[7.8,70.45],[8.0,71.0],[8.3,71.5],[9,72.0],[10,72.4],[11,72.7],[12,72.95],[12.5,73.06],[13,73.3],[13.5,73.7],[13.8,74.0],[18.0,74.0],[18.3,73.8],[18.7,73.5],[19.3,73.1],[20.5,72.5],[21.5,71.8],[22.1,74.5],[22.4,75.7],[22.8,75.9],[23.8,76.05]];
const west_jul_tm5b = [[0,75.5],[1,75.45],[2,75.35],[3,75.25],[3.8,75.2],[4.5,75.25],[5,75.3],[5.75,75.3],[5.85,71.59],[6.0,72.3],[6.3,72.1],[6.5,72.0],[7.0,71.95],[7.8,71.95],[8.0,72.5],[8.5,72.7],[9,72.85],[10,73.05],[11,73.25],[12,73.35],[12.7,73.35],[13.2,73.5],[13.8,74.0],[18.0,74.0],[18.3,73.9],[19,73.6],[19.6,73.3],[20.5,73.0],[21.6,72.5],[22.1,74.8],[22.5,75.5],[23.8,75.5]];
const west_jul_tm1g = [[0,78.55],[1,78.45],[1.5,78.5],[2,78.4],[3,78.15],[3.8,78.05],[4.5,78.2],[5,78.35],[5.75,78.35],[5.85,74.1],[6.0,72.75],[6.3,72.05],[6.5,72.15],[6.8,71.87],[7.5,71.95],[7.8,72.0],[8.0,72.55],[8.3,73.05],[8.7,73.55],[9.2,73.92],[9.5,74.0],[13.7,74.0],[13.8,76.0],[14.1,77.0],[14.6,77.8],[15.0,78.0],[17.7,78.0],[17.8,75.0],[18.0,74.0],[19.8,74.0],[20.3,73.4],[21,72.8],[21.6,72.3],[22.1,76.5],[22.5,77.8],[23,78.1],[23.8,78.23]];
const west_jul_tm2g = [[0,75.5],[0.5,75.45],[1,75.4],[2,75.3],[3,75.2],[3.8,75.15],[4.5,75.2],[5,75.3],[5.75,75.3],[5.85,72.1],[6.0,71.1],[6.3,70.85],[6.6,70.5],[7.0,70.5],[7.8,70.5],[8.0,71.05],[8.3,71.55],[9,72.05],[10,72.45],[11,72.75],[12,72.95],[12.5,73.0],[13,73.3],[13.7,74.0],[14.2,75.0],[14.8,75.8],[15.3,76.58],[15.5,76.55],[16.0,75.96],[16.3,76.0],[16.6,76.2],[17.0,76.0],[17.4,76.2],[17.7,75.8],[18.0,74.5],[18.3,73.9],[19.3,73.3],[20.5,72.6],[21.6,72.0],[22.1,75.0],[22.3,75.5],[22.6,73.3],[23.0,74.0],[23.4,75.0],[23.8,75.5]];
const west_jul_tm5g = [[0,75.55],[1,75.5],[2,75.4],[3,75.3],[3.8,75.25],[4.5,75.3],[5,75.35],[5.75,75.35],[5.85,71.65],[6.0,72.35],[6.3,72.15],[6.5,72.05],[7.0,72.0],[7.8,72.0],[8.0,72.55],[8.5,72.75],[9,72.9],[10,73.1],[11,73.3],[12,73.4],[12.7,73.4],[13.2,73.55],[13.7,74.0],[14.3,74.8],[15.0,75.4],[15.4,75.55],[15.8,75.4],[16.3,75.0],[16.6,75.3],[17.0,75.1],[17.3,75.35],[17.7,75.0],[18.0,74.3],[18.4,73.9],[19.2,73.6],[20.5,73.2],[21.6,72.7],[22.2,75.0],[22.5,75.6],[23.8,75.7]];

// West, 2006-06-05
const west_jun_tm1b = [[0,80.2],[1.5,79.6],[3.2,79.0],[3.5,78.85],[4,78.74],[4.5,78.75],[5,78.7],[5.5,78.55],[5.75,78.45],[5.85,74.0],[6.0,72.61],[6.2,72.65],[6.5,72.2],[6.8,72.02],[7.2,72.3],[7.6,72.4],[7.9,73.0],[8.2,73.7],[8.5,74.0],[21.5,74.0],[21.7,73.6],[21.9,75.5],[22.2,77.8],[22.4,79.2],[23.5,80]];
const west_jun_tm2b = [[0,75.79],[0.2,75.9],[0.45,75.9],[0.7,72.33],[1.0,74.3],[1.3,75.1],[1.45,75.4],[1.8,75.85],[2.2,75.9],[3,75.75],[3.5,75.65],[4,75.6],[5,75.55],[5.5,75.45],[5.75,75.4],[5.85,71.5],[5.95,70.5],[6.1,71.02],[6.3,70.75],[6.6,70.65],[6.8,70.6],[7.2,70.8],[7.6,70.85],[7.8,70.9],[8.0,71.5],[8.5,72.0],[9,72.3],[9.5,72.6],[10,72.8],[10.5,73.0],[11,73.3],[11.5,73.5],[11.8,73.69],[12.2,73.55],[12.6,73.55],[13.0,73.8],[13.3,74.0],[17.8,74.0],[17.95,75.22],[19.6,75.22],[20.2,74.6],[20.8,74.0],[21.3,73.6],[21.6,73.35],[21.8,74.4],[21.95,73.1],[22.2,75.0],[22.35,74.0],[22.5,76.5],[22.7,73.5],[23.0,74.5],[23.15,73.2],[23.4,75.5],[23.5,72.5]];
const west_jun_tm5b = [[0,75.33],[0.2,75.9],[0.5,75.9],[1,75.95],[1.5,76.0],[2,75.95],[2.5,75.9],[3,75.75],[4,75.6],[4.5,75.6],[5,75.6],[5.5,75.5],[5.75,75.4],[5.85,71.5],[6.0,72.3],[6.2,72.3],[6.4,72.3],[6.7,72.2],[7.0,72.2],[7.5,72.2],[7.8,72.25],[8.0,72.7],[8.5,73.0],[9,73.2],[10,73.4],[11,73.65],[11.7,73.86],[12.1,73.75],[12.6,73.8],[13.0,73.9],[13.3,74.0],[17.8,74.0],[17.95,75.2],[19.7,75.2],[20.2,74.9],[20.8,74.5],[21.5,74.2],[21.7,74.0],[22.0,75.3],[22.2,74.5],[22.4,76.3],[22.6,74.0],[22.8,73.5],[23.1,75.9],[23.3,73.5],[23.5,73.7]];
const west_jun_tm1g = [[0,80.2],[1.5,79.6],[3.0,79.0],[3.5,78.9],[4,78.91],[4.6,78.8],[4.8,78.7],[5.05,75.5],[5.2,73.86],[5.45,75.6],[5.6,76.3],[5.8,74.5],[6.0,72.6],[6.3,72.5],[6.6,72.0],[7.0,72.1],[7.6,72.42],[7.9,73.05],[8.2,73.72],[8.5,74.0],[13.6,74.0],[13.9,76.0],[14.3,77.3],[14.7,77.95],[15.0,78.0],[17.8,78.0],[17.95,75.0],[18.1,74.4],[18.4,74.0],[21.7,74.0],[21.9,76.0],[22.2,78.2],[22.5,79.3],[23.5,80]];
const west_jun_tm2g = [[0,71.65],[0.15,74.0],[0.3,75.0],[0.7,75.5],[1.0,75.9],[1.4,76.07],[1.75,72.95],[1.9,71.93],[2.0,71.9],[2.2,73.8],[2.5,74.8],[3.0,75.3],[3.5,75.45],[4,75.45],[4.5,75.5],[5,75.55],[5.5,75.45],[5.75,75.4],[5.85,71.0],[5.95,70.34],[6.1,71.0],[6.3,70.8],[6.6,70.7],[6.8,70.65],[7.2,70.85],[7.6,70.9],[7.8,70.95],[8.0,71.55],[8.5,72.05],[9,72.35],[9.5,72.65],[10,72.85],[10.5,73.05],[11,73.35],[11.5,73.55],[11.8,73.72],[12.2,73.58],[12.6,73.58],[13.0,73.82],[13.3,74.0],[13.6,74.0],[14.0,74.8],[14.5,76.0],[15.0,77.0],[15.6,78.0],[17.8,78.0],[18.0,75.2],[19.8,75.2],[20.3,74.8],[21.2,74.2],[21.6,73.8],[22.0,74.5],[22.2,74.0],[22.4,76.58],[22.6,73.1],[22.9,73.2],[23.2,76.0],[23.4,73.0],[23.5,72.5]];
const west_jun_tm5g = [[0,75.4],[0.2,75.92],[0.5,75.92],[1,75.97],[1.5,76.02],[2,75.97],[2.5,75.92],[3,75.77],[4,75.62],[4.5,75.62],[5,75.62],[5.5,75.52],[5.75,75.42],[5.85,71.55],[6.0,72.35],[6.2,72.35],[6.4,72.35],[6.7,72.25],[7.0,72.25],[7.5,72.25],[7.8,72.3],[8.0,72.75],[8.5,73.05],[9,73.25],[10,73.45],[11,73.7],[11.7,73.88],[12.1,73.78],[12.6,73.82],[13.0,73.92],[13.3,74.0],[13.6,74.0],[14.5,75.0],[15.5,76.2],[16.4,77.3],[16.7,77.6],[17.0,77.4],[17.5,77.55],[17.8,77.6],[18.0,75.2],[19.8,75.2],[20.5,74.9],[21.6,74.5],[22.0,75.4],[22.2,74.6],[22.4,76.2],[22.6,74.1],[22.8,73.6],[23.1,75.7],[23.3,73.6],[23.5,73.6]];

// ---- Labels and ticks ----
const dayTitles = ["2006-05-01(70-75F)", "2006-07-17(85-90F)", "2006-06-05(100-105F)"];
const zoneNames = ["Core", "North", "East", "South", "West"];
const zoneVars = ["CORE_MID", "PERIMETER_MID_ZN_1", "PERIMETER_MID_ZN_2", "PERIMETER_MID_ZN_3", "PERIMETER_MID_ZN_4"];
const seriesLabels = ["TM=1 Baseline", "TM=2 Baseline", "TM=5 Baseline", "TM=1 GTA5", "TM=2 GTA5", "TM=5 GTA5"];
const yTickValues = [70, 71, 72, 73, 74, 75, 76, 77, 78, 79];
const xTickValues = [0, 5, 10, 15, 20];
const xTickLabels = ["00:00", "05:00", "10:00", "15:00", "20:00"];

// panel grid: rows = zones, columns = days; series in plotting order
const panels = [
  [[core_may_tm1b, core_may_tm2b, core_may_tm5b, core_may_tm1g, core_may_tm2g, core_may_tm5g],
   [core_jul_tm1b, core_jul_tm2b, core_jul_tm5b, core_jul_tm1g, core_jul_tm2g, core_jul_tm5g],
   [core_jun_tm1b, core_jun_tm2b, core_jun_tm5b, core_jun_tm1g, core_jun_tm2g, core_jun_tm5g]],
  [[north_may_tm1b, north_may_tm2b, north_may_tm5b, north_may_tm1g, north_may_tm2g, north_may_tm5g],
   [north_jul_tm1b, north_jul_tm2b, north_jul_tm5b, north_jul_tm1g, north_jul_tm2g, north_jul_tm5g],
   [north_jun_tm1b, north_jun_tm2b, north_jun_tm5b, north_jun_tm1g, north_jun_tm2g, north_jun_tm5g]],
  [[east_may_tm1b, east_may_tm2b, east_may_tm5b, east_may_tm1g, east_may_tm2g, east_may_tm5g],
   [east_jul_tm1b, east_jul_tm2b, east_jul_tm5b, east_jul_tm1g, east_jul_tm2g, east_jul_tm5g],
   [east_jun_tm1b, east_jun_tm2b, east_jun_tm5b, east_jun_tm1g, east_jun_tm2g, east_jun_tm5g]],
  [[south_may_tm1b, south_may_tm2b, south_may_tm5b, south_may_tm1g, south_may_tm2g, south_may_tm5g],
   [south_jul_tm1b, south_jul_tm2b, south_jul_tm5b, south_jul_tm1g, south_jul_tm2g, south_jul_tm5g],
   [south_jun_tm1b, south_jun_tm2b, south_jun_tm5b, south_jun_tm1g, south_jun_tm2g, south_jun_tm5g]],
  [[west_may_tm1b, west_may_tm2b, west_may_tm5b, west_may_tm1g, west_may_tm2g, west_may_tm5g],
   [west_jul_tm1b, west_jul_tm2b, west_jul_tm5b, west_jul_tm1g, west_jul_tm2g, west_jul_tm5g],
   [west_jun_tm1b, west_jun_tm2b, west_jun_tm5b, west_jun_tm1g, west_jun_tm2g, west_jun_tm5g]]
];

// ---- Styling and layout ----
const colors = ["#2ca02c", "#4169e1", "#fa8072", "#2ca02c", "#4169e1", "#fa8072"];
const dashed = [false, false, false, true, true, true];
const colSpans = [[217, 483], [535, 802], [859, 1125]];
const rowTops = [22.7, 347, 671, 995, 1319];
const plotH = 264;
const rowLabelBase = [184.5, 490, 815, 1139, 1446];
const FONT = "'DejaVu Sans', Verdana, sans-serif";
const INK = "#262626";

const svg = d3.select("#chart");
svg.append("rect").attr("width", 1129).attr("height", 1616).attr("fill", "#fff");

// zone names at the left
svg.selectAll("text.zone").data(zoneNames).join("text")
  .attr("class", "zone")
  .attr("x", 48).attr("y", (d, i) => rowLabelBase[i])
  .attr("text-anchor", "middle")
  .attr("font-family", "'Open Sans', 'Noto Sans', sans-serif")
  .attr("font-size", 35).attr("fill", "#000")
  .text(d => d);

panels.forEach((row, r) => {
  row.forEach((series, c) => {
    const [x0, x1] = colSpans[c];
    const top = rowTops[r], bottom = top + plotH;
    const x = d3.scaleLinear().domain([-1.2, 24.95]).range([x0, x1]);
    const y = d3.scaleLinear().domain([70, 79]).range([bottom, top]);
    const g = svg.append("g");
    const clipId = `clip-${r}-${c}`;
    g.append("clipPath").attr("id", clipId)
      .append("rect").attr("x", x0).attr("y", top).attr("width", x1 - x0).attr("height", plotH);

    const line = d3.line().x(d => x(d[0])).y(d => y(d[1]));
    const lines = g.append("g").attr("clip-path", `url(#${clipId})`);
    series.forEach((pts, k) => {
      lines.append("path")
        .datum(pts)
        .attr("d", line)
        .attr("fill", "none")
        .attr("stroke", colors[k])
        .attr("stroke-width", 1.5)
        .attr("stroke-linejoin", "round")
        .attr("stroke-dasharray", dashed[k] ? "5.2,2.3" : null);
    });

    // axes
    const xAxis = d3.axisBottom(x).tickValues(xTickValues)
      .tickFormat((d, i) => xTickLabels[i]).tickSize(3.5).tickPadding(4.5);
    const yAxis = d3.axisLeft(y).tickValues(yTickValues)
      .tickFormat(d3.format("d")).tickSize(3.5).tickPadding(3);
    const gx = g.append("g").attr("transform", `translate(0,${bottom})`).call(xAxis);
    const gy = g.append("g").attr("transform", `translate(${x0},0)`).call(yAxis);
    [gx, gy].forEach(ax => {
      ax.select(".domain").remove();
      ax.selectAll("line").attr("stroke", "#333").attr("stroke-width", 0.8);
      ax.selectAll("text").attr("font-family", FONT).attr("font-size", 9.4).attr("fill", INK);
    });

    // frame
    g.append("rect").attr("x", x0).attr("y", top).attr("width", x1 - x0).attr("height", plotH)
      .attr("fill", "none").attr("stroke", "#333").attr("stroke-width", 0.9);

    // title and y label
    g.append("text").attr("x", (x0 + x1) / 2).attr("y", top - 5.5)
      .attr("text-anchor", "middle").attr("font-family", FONT).attr("font-size", 11.2).attr("fill", INK)
      .text(dayTitles[c]);
    g.append("text")
      .attr("transform", `translate(${x0 - 27},${(top + bottom) / 2}) rotate(-90)`)
      .attr("text-anchor", "middle").attr("dominant-baseline", "central")
      .attr("font-family", FONT).attr("font-size", 9.4).attr("fill", INK)
      .text(`${zoneVars[r]} Zone Mean Air Temperature (F)`);
    if (r === rowTops.length - 1) {
      g.append("text").attr("x", (x0 + x1) / 2).attr("y", bottom + 24.5)
        .attr("text-anchor", "middle").attr("font-family", FONT).attr("font-size", 9.4).attr("fill", INK)
        .text("time");
    }

    // legend, lower right
    const lw = 107, lh = 89;
    const lx = x1 - 4 - lw, ly = bottom - 5 - lh;
    const lg = g.append("g").attr("transform", `translate(${lx},${ly})`);
    lg.append("rect").attr("width", lw).attr("height", lh).attr("rx", 2.5)
      .attr("fill", "#fff").attr("fill-opacity", 0.8).attr("stroke", "#cccccc").attr("stroke-width", 0.9);
    seriesLabels.forEach((lab, k) => {
      const cy = 8.6 + k * 14.4;
      lg.append("line").attr("x1", 4).attr("x2", 21).attr("y1", cy).attr("y2", cy)
        .attr("stroke", colors[k]).attr("stroke-width", 1.5)
        .attr("stroke-dasharray", dashed[k] ? "5.2,2.3" : null);
      lg.append("text").attr("x", 25).attr("y", cy).attr("dy", "0.35em")
        .attr("font-family", FONT).attr("font-size", 9.2).attr("fill", INK).text(lab);
    });
  });
});
</script>
</body>
</html>
